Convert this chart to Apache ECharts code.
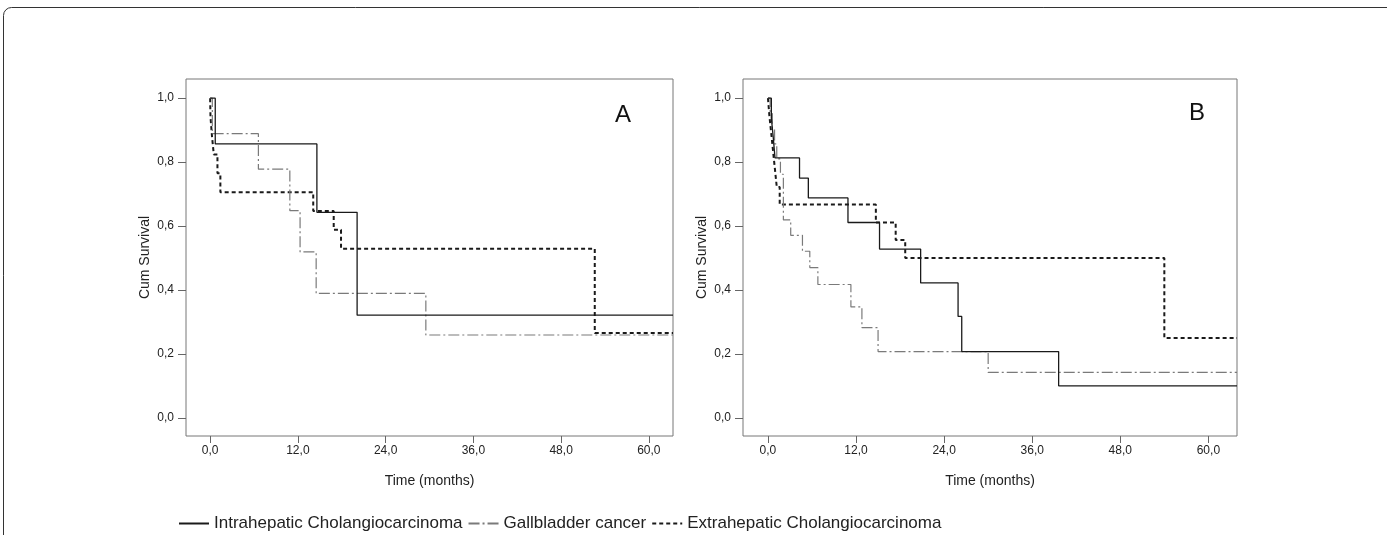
<!DOCTYPE html>
<html>
<head>
<meta charset="utf-8">
<title>Cum Survival</title>
<script src="https://cdn.jsdelivr.net/npm/echarts@6/dist/echarts.min.js"></script>
<style>
  html, body { margin: 0; padding: 0; background: #fff; }
  #chart { width: 1387px; height: 535px; }
</style>
</head>
<body>
<div id="chart"></div>
<script>
// months
var xTicks = [0, 12, 24, 36, 48, 60];
var xTickLabels = ["0,0", "12,0", "24,0", "36,0", "48,0", "60,0"];
var yTicks = [0, 0.2, 0.4, 0.6, 0.8, 1.0];
var yTickLabels = ["0,0", "0,2", "0,4", "0,6", "0,8", "1,0"];
var seriesNames = ["Intrahepatic Cholangiocarcinoma", "Gallbladder cancer", "Extrahepatic Cholangiocarcinoma"];
var panelLabels = ["A", "B"];

// panel A (last point = end of follow-up shown)
var aIntraT = [0, 0.7, 14.6, 20.1, 63.3];
var aIntraS = [1, 0.857, 0.643, 0.321, 0.321];
var aGallT = [0, 0.3, 6.6, 10.9, 12.3, 14.5, 29.5, 63.3];
var aGallS = [1, 0.889, 0.778, 0.648, 0.519, 0.389, 0.259, 0.259];
var aExtraT = [0, 0.05, 0.25, 0.5, 1.0, 1.4, 14.1, 16.9, 17.9, 52.6, 63.3];
var aExtraS = [1, 0.941, 0.882, 0.824, 0.765, 0.706, 0.647, 0.588, 0.529, 0.265, 0.265];

// panel B
var bIntraT = [0, 0.46, 0.73, 0.96, 4.3, 5.5, 10.9, 15.2, 20.8, 25.9, 26.4, 39.6, 63.9];
var bIntraS = [1, 0.938, 0.875, 0.813, 0.75, 0.688, 0.611, 0.528, 0.422, 0.317, 0.207, 0.1, 0.1];
var bGallT = [0, 0.3, 0.6, 0.9, 1.2, 1.7, 2.1, 3.1, 4.7, 5.7, 6.8, 11.3, 12.8, 15.0, 30.0, 63.9];
var bGallS = [1, 0.952, 0.905, 0.857, 0.81, 0.762, 0.619, 0.571, 0.521, 0.47, 0.417, 0.347, 0.282, 0.207, 0.142, 0.142];
var bExtraT = [0, 0.2, 0.45, 0.7, 0.95, 1.2, 1.6, 14.7, 17.4, 18.7, 54.0, 63.9];
var bExtraS = [1, 0.944, 0.889, 0.833, 0.778, 0.722, 0.667, 0.611, 0.556, 0.5, 0.25, 0.25];

function pairs(t, s) {
  var out = [];
  for (var i = 0; i < t.length; i++) out.push([t[i], s[i]]);
  return out;
}

var styles = [
  { color: "#1a1a1a", width: 1.3, type: "solid" },
  { color: "#7a7a7a", width: 1.2, type: [11, 3, 2, 3] },
  { color: "#1a1a1a", width: 2, type: [4, 3] }
];

var chart = echarts.init(document.getElementById("chart"));

var grids = [
  { left: 186, top: 79, width: 487, height: 357 },
  { left: 743, top: 79, width: 494, height: 357 }
];

function xAxisFor(i, min, max) {
  return {
    type: "value", gridIndex: i, min: min, max: max,
    name: "Time (months)", nameLocation: "middle", nameGap: 38,
    nameTextStyle: { color: "#222", fontSize: 14, fontFamily: "Liberation Sans" },
    axisLine: { show: false, onZero: false },
    splitLine: { show: false },
    axisTick: { show: true, length: 7, customValues: xTicks, lineStyle: { color: "#666" } },
    axisLabel: {
      customValues: xTicks, margin: 9, color: "#222", fontSize: 12, fontFamily: "Liberation Sans",
      formatter: function (v) { return xTickLabels[xTicks.indexOf(v)]; }
    }
  };
}

function yAxisFor(i) {
  return {
    type: "value", gridIndex: i, min: -0.057, max: 1.06,
    name: "Cum Survival", nameLocation: "middle", nameGap: 34,
    nameTextStyle: { color: "#222", fontSize: 14, fontFamily: "Liberation Sans" },
    axisLine: { show: false, onZero: false },
    splitLine: { show: false },
    axisTick: { show: true, length: 8, customValues: yTicks, lineStyle: { color: "#666" } },
    axisLabel: {
      customValues: yTicks, margin: 12, color: "#222", fontSize: 12, fontFamily: "Liberation Sans",
      formatter: function (v) { return yTickLabels[yTicks.indexOf(Math.round(v * 10) / 10)]; }
    }
  };
}

var panels = [
  [[aIntraT, aIntraS], [aGallT, aGallS], [aExtraT, aExtraS]],
  [[bIntraT, bIntraS], [bGallT, bGallS], [bExtraT, bExtraS]]
];

var series = [];
panels.forEach(function (p, gi) {
  p.forEach(function (d, k) {
    series.push({
      name: seriesNames[k],
      type: "line",
      step: "end",
      xAxisIndex: gi, yAxisIndex: gi,
      symbol: "none",
      silent: true,
      z: 3 - k,
      lineStyle: { color: styles[k].color, width: styles[k].width, type: styles[k].type },
      itemStyle: { color: styles[k].color },
      data: pairs(d[0], d[1])
    });
  });
});

chart.setOption({
  backgroundColor: "#fff",
  animation: false,
  grid: grids.map(function (g) {
    return Object.assign({ show: true, borderColor: "#777", borderWidth: 1, backgroundColor: "transparent" }, g);
  }),
  xAxis: [xAxisFor(0, -3.3, 63.3), xAxisFor(1, -3.4, 63.9)],
  yAxis: [yAxisFor(0), yAxisFor(1)],
  legend: {
    left: 173, top: 510,
    itemWidth: 30, itemHeight: 12, itemGap: 5,
    itemStyle: { opacity: 0 },
    textStyle: { color: "#222", fontSize: 17, fontFamily: "Liberation Sans" },
    data: seriesNames
  },
  graphic: [
    {
      type: "rect", silent: true, z: -1,
      shape: { x: 3.5, y: 7.5, width: 1420, height: 600, r: 8 },
      style: { fill: "none", stroke: "#333", lineWidth: 1 }
    },
    {
      type: "text", left: 615, top: 103,
      style: { text: panelLabels[0], fontSize: 24, fontFamily: "Liberation Sans", fill: "#111" }
    },
    {
      type: "text", left: 1189, top: 101,
      style: { text: panelLabels[1], fontSize: 24, fontFamily: "Liberation Sans", fill: "#111" }
    }
  ],
  series: series
});
</script>
</body>
</html>
